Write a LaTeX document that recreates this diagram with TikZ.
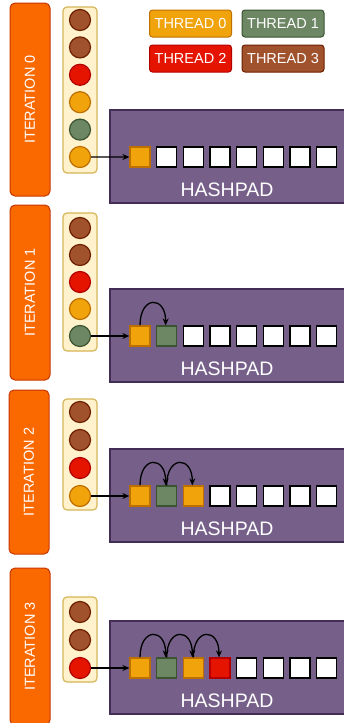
\documentclass[tikz,border=0pt]{standalone}
\usepackage{fontspec}
\setmainfont{Liberation Sans}
\usetikzlibrary{arrows.meta}
\definecolor{iterF}{HTML}{FA6800}
\definecolor{iterD}{HTML}{C73500}
\definecolor{stkF}{HTML}{FFF2CC}
\definecolor{stkD}{HTML}{D6B656}
\definecolor{cAF}{HTML}{F0A30A}
\definecolor{cAD}{HTML}{BD7000}
\definecolor{cBF}{HTML}{6D8764}
\definecolor{cBD}{HTML}{3A5431}
\definecolor{cCF}{HTML}{E51400}
\definecolor{cCD}{HTML}{B20000}
\definecolor{cDF}{HTML}{A0522D}
\definecolor{cDD}{HTML}{6D1F00}
\definecolor{hpF}{HTML}{76608A}
\definecolor{hpD}{HTML}{432D57}
\tikzset{
  iterbar/.style={rectangle, rounded corners=5pt, fill=iterF, draw=iterD, line width=1pt,
    minimum height=40pt, inner sep=0pt, rotate=90, text=white, font=\fontsize{14.5}{15}\selectfont},
  stackbox/.style={rectangle, rounded corners=4pt, fill=stkF, draw=stkD, line width=1.2pt,
    minimum width=34pt, inner sep=0pt},
  dot/.style={circle, minimum size=21pt, inner sep=0pt, line width=1.2pt},
  t0dot/.style={dot, fill=cAF, draw=cAD},
  t1dot/.style={dot, fill=cBF, draw=cBD},
  t2dot/.style={dot, fill=cCF, draw=cCD},
  t3dot/.style={dot, fill=cDF, draw=cDD},
  legend/.style={rectangle, rounded corners=3pt, minimum width=82pt, minimum height=27pt,
    inner sep=0pt, line width=1pt, text=white, font=\fontsize{14.5}{15}\selectfont},
  hashpad/.style={rectangle, fill=hpF, draw=hpD, line width=1.2pt, minimum width=236pt,
    minimum height=93pt, inner sep=0pt},
  hplabel/.style={text=white, font=\fontsize{19.5}{20}\selectfont, inner sep=0pt},
  cell/.style={rectangle, minimum size=20pt, inner sep=0pt, line width=1.5pt, fill=white, draw=black},
  t0sq/.style={cell, fill=cAF, draw=cAD, line width=1.2pt},
  t1sq/.style={cell, fill=cBF, draw=cBD, line width=1.2pt},
  t2sq/.style={cell, fill=cCF, draw=cCD, line width=1.2pt},
  wsq/.style={cell},
  arr/.style={-{Stealth[length=7pt,width=6pt]}, line width=1.3pt, black},
}
\begin{document}
\begin{tikzpicture}[x=1pt,y=-1pt]
\useasboundingbox (0,0) rectangle (344,723);

% legend
\node[legend, fill=cAF, draw=cAD] (lg0) at (190.5,23.5) {THREAD 0};
\node[legend, fill=cBF, draw=cBD] (lg1) at (283,23.5) {THREAD 1};
\node[legend, fill=cCF, draw=cCD] (lg2) at (190.5,58.5) {THREAD 2};
\node[legend, fill=cDF, draw=cDD] (lg3) at (283,58.5) {THREAD 3};

% iteration bars
\node[iterbar, minimum width=193pt] (it0) at (30,99.5) {ITERATION 0};
\node[iterbar, minimum width=175pt] (it1) at (30,292.5) {ITERATION 1};
\node[iterbar, minimum width=164pt] (it2) at (29,472) {ITERATION 2};
\node[iterbar, minimum width=157pt] (it3) at (30,646.5) {ITERATION 3};

% stacks
\node[stackbox, minimum height=166pt] (st0) at (80,90) {};
\node[stackbox, minimum height=138pt] (st1) at (80,282) {};
\node[stackbox, minimum height=111pt] (st2) at (80,454.5) {};
\node[stackbox, minimum height=85pt] (st3) at (80,639.5) {};

\foreach \col [count=\i] in {t3dot,t3dot,t2dot,t0dot,t1dot,t0dot}
  \node[\col] (c0-\i) at (80,{20+(\i-1)*27.4}) {};
\foreach \col [count=\i] in {t3dot,t3dot,t2dot,t0dot,t1dot}
  \node[\col] (c1-\i) at (80,{228+(\i-1)*27}) {};
\foreach \col [count=\i] in {t3dot,t3dot,t2dot,t0dot}
  \node[\col] (c2-\i) at (80,{412+(\i-1)*28}) {};
\foreach \col [count=\i] in {t3dot,t3dot,t2dot}
  \node[\col] (c3-\i) at (80,{612+(\i-1)*28}) {};

% hashpads
\node[hashpad] (hp0) at (228,156.5) {};
\node[hashpad] (hp1) at (228,335.5) {};
\node[hashpad] (hp2) at (228,495.5) {};
\node[hashpad] (hp3) at (228,667.5) {};
\node[hplabel] (hl0) at (227,190) {HASHPAD};
\node[hplabel] (hl1) at (227,369) {HASHPAD};
\node[hplabel] (hl2) at (227,529) {HASHPAD};
\node[hplabel] (hl3) at (227,701) {HASHPAD};

% cells
\foreach \sty [count=\i] in {t0sq,wsq,wsq,wsq,wsq,wsq,wsq,wsq}
  \node[\sty] (s0-\i) at ({140+(\i-1)*26.67},157) {};
\foreach \sty [count=\i] in {t0sq,t1sq,wsq,wsq,wsq,wsq,wsq,wsq}
  \node[\sty] (s1-\i) at ({140+(\i-1)*26.67},336) {};
\foreach \sty [count=\i] in {t0sq,t1sq,t0sq,wsq,wsq,wsq,wsq,wsq}
  \node[\sty] (s2-\i) at ({140+(\i-1)*26.67},496) {};
\foreach \sty [count=\i] in {t0sq,t1sq,t0sq,t2sq,wsq,wsq,wsq,wsq}
  \node[\sty] (s3-\i) at ({140+(\i-1)*26.67},668) {};

% pointers
\draw[arr] (c0-6) -- (s0-1);
\draw[arr] (c1-5) -- (s1-1);
\draw[arr] (c2-4) -- (s2-1);
\draw[arr] (c3-3) -- (s3-1);

% hops
\draw[arr] (s1-1.north) .. controls +(0,-30) and +(0,-30) .. ([xshift=-1pt]s1-2.north);
\draw[arr] (s2-1.north) .. controls +(0,-30) and +(0,-30) .. ([xshift=-1pt]s2-2.north);
\draw[arr] (s2-2.north) .. controls +(0,-30) and +(0,-30) .. ([xshift=-1pt]s2-3.north);
\draw[arr] (s3-1.north) .. controls +(0,-30) and +(0,-30) .. ([xshift=-1pt]s3-2.north);
\draw[arr] (s3-2.north) .. controls +(0,-30) and +(0,-30) .. ([xshift=-1pt]s3-3.north);
\draw[arr] (s3-3.north) .. controls +(0,-30) and +(0,-30) .. ([xshift=-1pt]s3-4.north);
\end{tikzpicture}
\end{document}
